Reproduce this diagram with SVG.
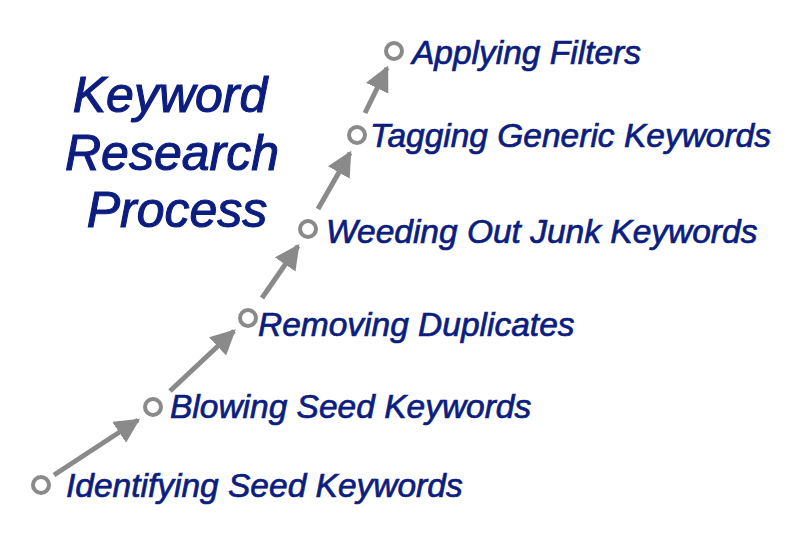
<svg xmlns="http://www.w3.org/2000/svg" width="800" height="546" viewBox="0 0 800 546">
<style>
.t{font-family:"Liberation Sans",Arial,sans-serif;font-style:italic;fill:#0c1d80;stroke:#0c1d80;stroke-width:0.7}
.lbl{font-size:33.5px}
.ttl{font-size:50px;text-anchor:middle;stroke-width:1.1}
.c{fill:none;stroke:#8a8a8a;stroke-width:4}
.a{stroke:#8a8a8a;stroke-width:5;fill:none;marker-end:url(#ah)}
</style>
<defs>
<marker id="ah" viewBox="0 0 10 10" refX="9" refY="5" markerWidth="5" markerHeight="5" markerUnits="strokeWidth" orient="auto">
<path d="M0,0 L10,5 L0,10 Z" fill="#8a8a8a"/>
</marker>
</defs>
<rect width="800" height="546" fill="#fff"/>
<g id="title">
<text class="t ttl" x="170" y="112">Keyword</text>
<text class="t ttl" x="172" y="170">Research</text>
<text class="t ttl" x="177" y="227">Process</text>
</g>
<g id="connectors">
<line class="a" x1="54" y1="475" x2="138" y2="420"/>
<line class="a" x1="170" y1="391" x2="234" y2="331"/>
<line class="a" x1="262" y1="298" x2="298" y2="246"/>
<line class="a" x1="318" y1="209" x2="350" y2="153"/>
<line class="a" x1="365" y1="113" x2="387" y2="68"/>
</g>
<g id="n1"><circle class="c" cx="41" cy="485" r="8"/><text class="t lbl" x="66" y="497">Identifying Seed Keywords</text></g>
<g id="n2"><circle class="c" cx="153" cy="407" r="8"/><text class="t lbl" x="170" y="418">Blowing Seed Keywords</text></g>
<g id="n3"><circle class="c" cx="248" cy="318" r="8"/><text class="t lbl" x="258" y="336">Removing Duplicates</text></g>
<g id="n4"><circle class="c" cx="308" cy="229" r="8"/><text class="t lbl" x="326" y="243">Weeding Out Junk Keywords</text></g>
<g id="n5"><circle class="c" cx="357" cy="135" r="8"/><text class="t lbl" x="370" y="147">Tagging Generic Keywords</text></g>
<g id="n6"><circle class="c" cx="394" cy="51" r="8"/><text class="t lbl" x="412" y="64">Applying Filters</text></g>
</svg>
